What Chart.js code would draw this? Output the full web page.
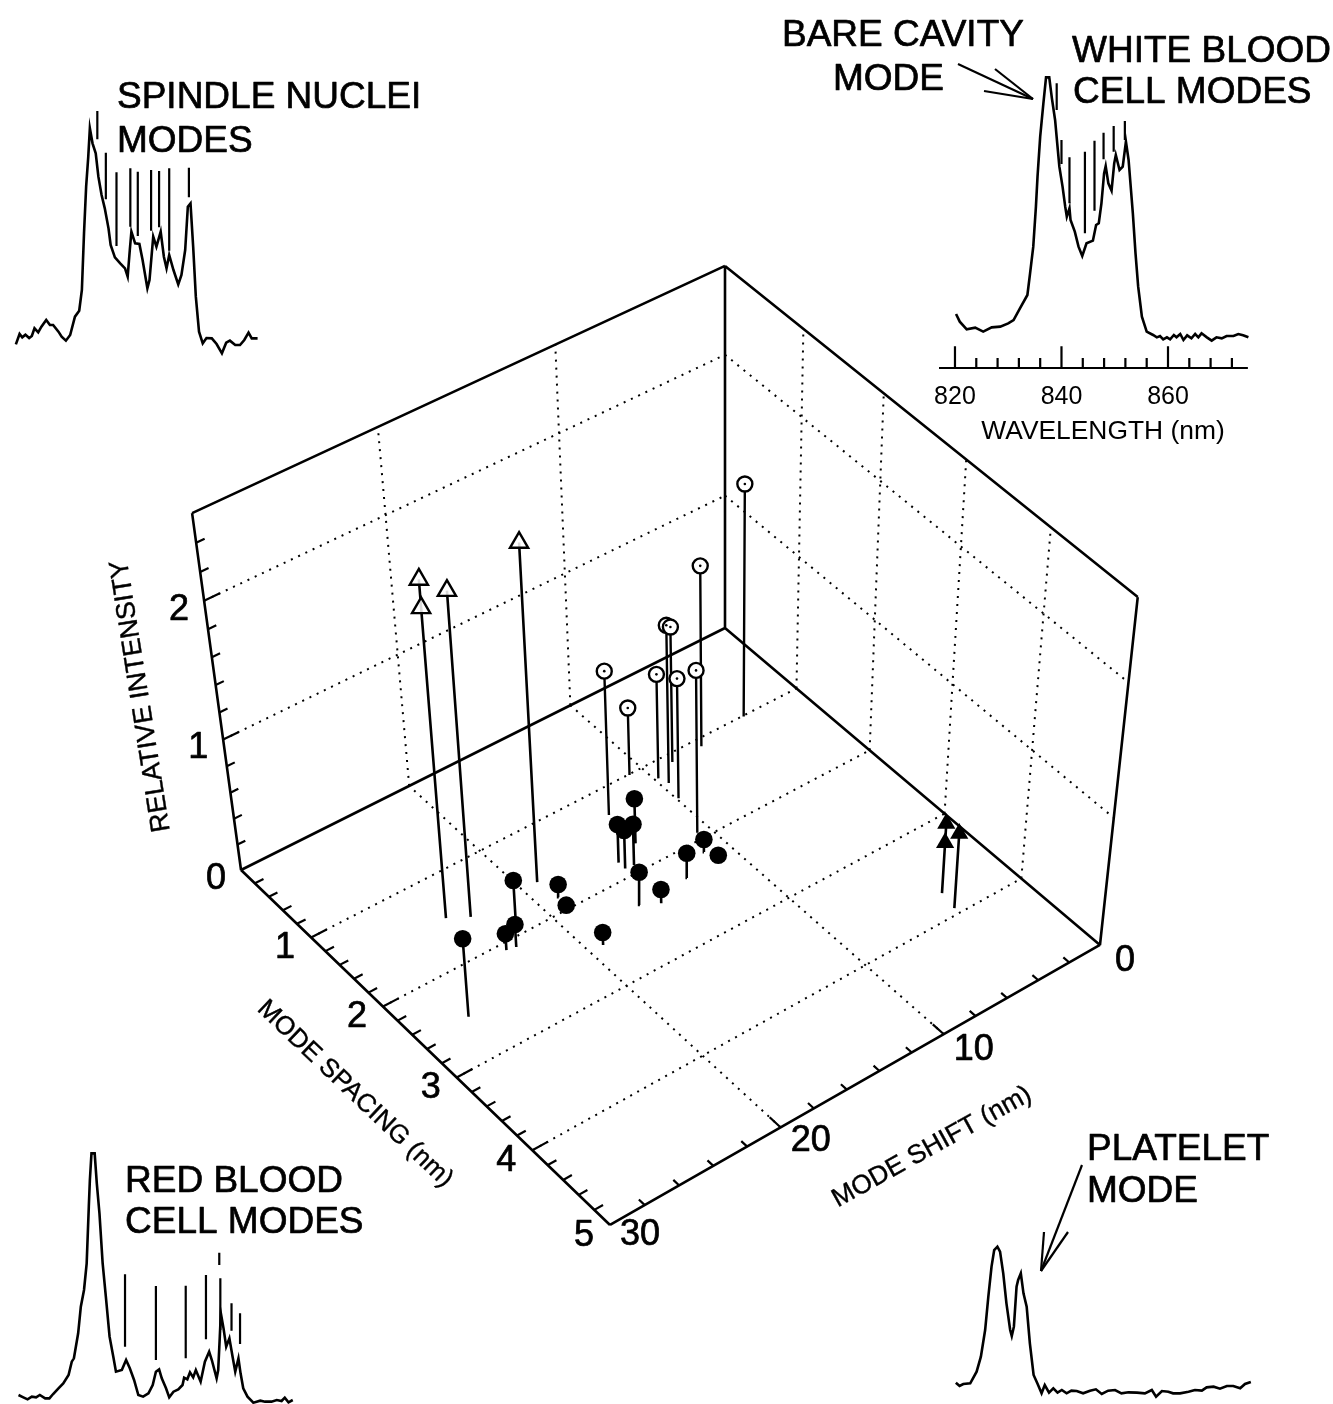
<!doctype html>
<html><head><meta charset="utf-8">
<style>html,body{margin:0;padding:0;background:#fff;overflow:hidden}canvas{position:absolute}</style>
<script src="https://cdn.jsdelivr.net/npm/chart.js@4/dist/chart.umd.min.js"></script>
</head><body>
<canvas id="main" width="1333" height="1404" style="left:0;top:0"></canvas>
<canvas id="white" width="346" height="390" style="left:930px;top:60px"></canvas>
<canvas id="spindle" width="260" height="265" style="left:10px;top:100px"></canvas>
<canvas id="red" width="290" height="264" style="left:10px;top:1140px"></canvas>
<canvas id="platelet" width="310" height="170" style="left:950px;top:1230px"></canvas>
<script>
// ---------- 3D scatter data: mode spacing (nm), mode shift (nm), relative intensity
const openTriSpacing=[1.48,1.48,1.59,1.59];
const openTriShift=[24.1,24.1,23.1,19.1];
const openTriIntensity=[2.50,2.305,2.415,2.50];
const filledDotSpacing=[2.51,1.84,2.10,2.08,1.84,1.99,2.51,1.71,1.81,1.90,1.91,2.32,2.41,2.30,2.14,2.29];
const filledDotShift=[27.2,21.5,22.6,23.1,18.9,19.1,19.2,13.6,15.1,15.1,14.6,16.1,15.2,13.1,11.3,11.1];
const filledDotIntensity=[0.62,0.31,0.18,0.13,0.10,0.03,0.10,0.35,0.30,0.30,0.32,0.26,0.11,0.195,0.10,0.04];
const openDotSpacing=[1.01,1.09,1.29,1.10,1.30,1.01,1.19,1.49,1.92];
const openDotShift=[3.5,6.6,9.6,8.5,13.4,10.8,9.8,9.9,10.7];
const openDotIntensity=[1.73,1.36,1.20,1.03,1.10,0.52,0.80,0.92,1.24];
const filledTriSpacing=[3.73,3.73,3.93];
const filledTriShift=[3.8,3.8,4.0];
const filledTriIntensity=[0.55,0.40,0.59];
// axis ranges and ticks
const spacingTicks=[0,0.2,0.4,0.6,0.8,1,1.2,1.4,1.6,1.8,2,2.2,2.4,2.6,2.8,3,3.2,3.4,3.6,3.8,4,4.2,4.4,4.6,4.8,5];
const shiftTicks=[0,2,4,6,8,10,12,14,16,18,20,22,24,26,28,30];
const intensityTicks=[0,0.2,0.4,0.6,0.8,1,1.2,1.4,1.6,1.8,2,2.2,2.4,2.6];
const spacingLabels=[1,2,3,4,5];
const shiftLabels=[0,10,20,30];
const intensityLabels=[0,1,2];
const spacingMax=5, shiftMax=30, intensityMax=2.6;

// ---------- Inset spectra (wavelength nm, arbitrary intensity)
const whiteNm=[820.2,820.9,822.2,823.8,825.3,826.9,828.5,830.0,831.0,832.2,833.6,834.1,834.7,835.2,835.5,836.0,836.6,837.1,837.7,838.2,838.8,839.2,839.6,840.2,840.7,841.0,841.5,841.7,842.5,843.2,843.9,844.7,845.9,846.5,847.0,847.5,848.0,848.3,848.8,849.4,849.9,850.2,850.9,851.5,852.1,852.6,852.9,853.4,853.9,854.4,855.1,856.0,857.2,857.9,858.5,859.1,859.8,860.4,861.1,861.6,862.3,862.9,863.6,864.4,865.1,865.7,866.3,867.3,868.2,869.1,870.1,871.0,872.3,873.2,874.1,875.1];
const whiteI=[7.8,5.5,3.2,3.7,2.5,3.8,4,5,6,9.5,13.5,20,28,40,49,61,71,78.8,78.8,72.5,66,59,52,46,40,37,39.5,36,32.5,28,25.2,29,29.8,34.5,35,41,50,52.2,47,44.8,53,55.5,51,52,59.5,54,48,38,26,16,7,2.5,1.5,0.8,1.2,0.2,0.8,0.2,1.5,0.8,1.8,0,1.4,0.5,1.8,0.8,2,0.8,-0.2,0.8,0.5,1.2,1.2,1.8,1.4,0.8];
const whiteMarkNm=[839.1,840.0,841.5,844.4,846.2,847.9,849.8,851.9];
const whiteMarkLow=[69,52.8,41,32,38.8,54.2,56.5,60];
const whiteMarkHigh=[77,60,54.8,56.5,59.8,62.2,64.2,65.7];
const wavelengthTicks=[820,824,828,832,836,840,844,848,852,856,860,864,868,872];
const wavelengthLabels=[820,840,860];

const spindleNm=[823.5,824.2,824.7,825.3,826.0,826.5,827.0,827.7,828.3,829.2,829.9,830.5,831.5,832.1,832.9,833.7,834.6,835.4,835.9,836.3,836.7,837.1,837.4,837.9,838.5,839.0,839.6,840.2,840.9,841.3,842.1,843.1,844.0,844.5,844.9,845.2,845.9,846.7,847.3,848.2,848.6,849.3,849.9,850.7,851.3,851.8,852.3,853.1,854.0,854.6,855.3,855.8,856.3,856.8,857.3,857.9,858.6,859.3,860.3,861.2,862.2,863.0,863.7,864.7,865.6,866.4,867.2,867.8,868.9];
const spindleI=[6.7,9.8,8.8,9.6,8.6,9.2,11.5,10.3,12,14,12.5,12.5,10.5,9,7.8,9.5,15,16.8,23,40,54,63,71.5,67,64,57,51.5,47.5,41.5,36.5,32.8,31,29.5,27,35,40.5,37,36.8,32,23.5,26,39,36,40.5,33,29.5,33.5,29,24.7,27.5,35,48,49,36,21,10.5,7,8.6,8.5,6.8,4,7.2,7.8,6.5,6.5,8,10.2,8.5,8.5];
const spindleMarkNm=[838.8,840.4,842.4,845.0,846.4,848.9,850.4,852.3,856.0];
const spindleMarkLow=[68.2,50.2,36.2,42,39.2,40.8,41.8,34.8,50.8];
const spindleMarkHigh=[76.7,64.2,58.3,59.5,58.5,59,58.7,59.5,59.7];

const redNm=[823.5,824.4,825.2,826.0,826.8,827.5,828.5,829.3,830.0,831.0,831.9,832.9,833.5,833.9,834.7,835.2,835.8,836.3,836.7,836.9,837.2,837.8,838.2,838.7,839.3,839.9,840.6,841.3,841.8,842.9,843.7,844.4,845.2,846.0,846.9,847.9,848.7,849.3,849.9,850.4,851.2,851.8,852.6,853.5,854.3,854.6,855.2,855.7,856.3,856.8,857.7,858.5,859.3,859.8,860.7,861.0,861.3,861.5,862.0,862.5,863.1,863.7,864.2,864.8,865.2,865.7,866.5,867.6,868.9,869.8,871.0,872.0,872.9,873.5,874.2,875.0];
const redI=[3.5,2.8,2.2,3,2.8,3.5,2.5,2.5,3.8,5.5,7,9.5,13.5,14.5,22,30,35,43,60,68,76,76,67,58,43,33,21,15,10.5,11,14,11.5,8,3.5,3,4,6.5,10.5,11.2,8.5,5.5,2.8,4.5,5.2,6.5,8.7,8.2,10.3,8.8,11,7.5,13.5,16.5,14,8.5,11,21,28,23.5,18,20.5,15,10.5,14.5,10,5.5,3,1.2,1.8,1.5,1.5,2,1.7,2.7,1.3,2];
const redMarkNm=[843.5,849.3,854.9,858.7,861.2,861.4,863.5,865.1];
const redMarkLow=[18,14,14.5,20.2,42.5,23,22.8,18.8];
const redMarkHigh=[39.7,36.2,36.3,39.5,46.2,38.5,31,28];

const plateletNm=[829.7,830.4,831.1,832.4,833.6,834.4,835.2,835.8,836.4,836.9,837.5,838.0,838.6,839.2,839.9,840.2,840.6,841.1,841.4,841.9,842.4,843.0,843.6,844.3,845.0,845.8,846.4,847.2,848.0,848.8,849.6,850.5,851.4,852.4,853.6,854.9,856.0,857.1,858.3,859.6,860.8,862.1,863.7,865.2,866.5,867.3,868.4,869.6,870.5,871.8,873.4,874.6,875.9,876.8,878.1,879.3,880.6,881.8,883.1,884.0,885.1];
const plateletI=[6.2,5.2,5.8,6,9.5,14,22,32,41,46,47,45.5,39,30,22,20.2,23,35,37,39,33,29,18,8.5,6,3,5.5,3.2,4.5,3.2,4,3,3.8,3.7,3,3.8,4.2,2.8,3.8,4,3,3.3,3.2,3,4,2,3.7,3.5,3,3,3.5,4,3.8,4.8,5,4.4,5.2,5.2,4.5,5.8,6.4];

// ---------- camera: maps (spacing, shift, intensity) onto the page
function camera(sp,sh,z){
  const u=sp/spacingMax, v=sh/shiftMax;
  const w=-0.05825*u-0.0611*v+1;
  const fx=(310.9*u-498.7*v+725)/w, fy=(261.95*u+188.84*v+628)/w;
  const k=0.096+0.0047*u+0.0051*v;
  const t=(z/(1-0.03*z))/2.82*k;
  return {x:fx+(fx-725)*t, y:fy+(fy-4400)*t};
}
const GAP={x:NaN,y:NaN};
function segs(list){const out=[];list.forEach(s=>{out.push(...s,GAP)});return out;}
const seg3=(a,b)=>[camera(...a),camera(...b)];

const frame=segs([
 seg3([0,30,0],[0,0,0]),seg3([0,0,0],[5,0,0]),seg3([5,0,0],[5,30,0]),seg3([5,30,0],[0,30,0]),
 seg3([0,30,0],[0,30,intensityMax]),seg3([0,0,0],[0,0,intensityMax]),seg3([5,0,0],[5,0,intensityMax]),
 seg3([0,30,intensityMax],[0,0,intensityMax]),seg3([0,0,intensityMax],[5,0,intensityMax])]);
const majorSp=[1,2,3,4], majorSh=[10,20], majorZ=[1,2];
const grid=segs([
 ...majorSp.map(s=>seg3([s,30,0],[s,0,0])),
 ...majorSh.map(s=>seg3([5,s,0],[0,s,0])),
 ...majorSh.map(s=>seg3([0,s,0],[0,s,intensityMax])),
 ...majorSp.map(s=>seg3([s,0,0],[s,0,intensityMax])),
 ...majorZ.map(z=>seg3([0,30,z],[0,0,z])),
 ...majorZ.map(z=>seg3([0,0,z],[5,0,z]))]);
const isMaj=(v,step)=>Math.abs(v/step-Math.round(v/step))<1e-6;
const axisTicks=segs([
 ...intensityTicks.filter(z=>z>0&&z<2.6).map(z=>seg3([0,30,z],[0,30-(isMaj(z,1)?0.85:0.45),z])),
 ...spacingTicks.filter(s=>s>0&&s<5).map(s=>seg3([s,30,0],[s,30-(isMaj(s,1)?0.9:0.5),0])),
 ...shiftTicks.filter(s=>s>0&&s<30).map(s=>seg3([5,s,0],[5-(isMaj(s,10)?0.14:0.075),s,0]))]);
const drops=(a,b,c)=>segs(a.map((s,i)=>seg3([s,b[i],0],[s,b[i],c[i]])));
const tops=(a,b,c)=>a.map((s,i)=>camera(s,b[i],c[i]));
const line=(data,w,extra)=>Object.assign({data,showLine:true,borderColor:'#000',borderWidth:w,pointRadius:0,clip:false,spanGaps:false,tension:0},extra||{});
const marker=(data,style,r,fill,extra)=>Object.assign({data,showLine:false,pointStyle:style,pointRadius:r,pointBackgroundColor:fill,pointBorderColor:'#000',pointBorderWidth:2.4,clip:false},extra||{});

const FONT='"Liberation Sans",Arial,sans-serif';
const captions=[['SPINDLE NUCLEI',117,108],['MODES',117,152],['BARE CAVITY',782,46],['MODE',833,90],['WHITE BLOOD',1072,62],['CELL MODES',1073,103],['RED BLOOD',125,1192],['CELL MODES',125,1233],['PLATELET',1087,1160],['MODE',1087,1202]];
const rotated=[['RELATIVE INTENSITY',141,696,-99,26.8],['MODE SPACING (nm)',355,1094,43.5,25.8],['MODE SHIFT (nm)',932,1147,-29,26.3]];
const arrowStrokes=[[1033,99,958,64],[1033,99,995,69],[1033,99,984,91],[1041,1271,1082,1165],[1041,1271,1044,1232],[1041,1271,1068,1232]];
const annotate={id:'annotate',afterDraw(ch){
  const c=ch.ctx;c.save();c.fillStyle='#000';c.strokeStyle='#000';c.lineWidth=2.2;
  arrowStrokes.forEach(a=>{c.beginPath();c.moveTo(a[0],a[1]);c.lineTo(a[2],a[3]);c.stroke();});
  c.lineWidth=0.7;c.lineJoin='round';
  const ink=(s,x,y)=>{c.fillText(s,x,y);c.strokeText(s,x,y);};
  c.textBaseline='alphabetic';c.textAlign='left';c.font='37px '+FONT;
  captions.forEach(t=>ink(t[0],t[1],t[2]));
  c.textAlign='center';c.textBaseline='middle';c.font='36px '+FONT;
  const sx=ch.scales.x,sy=ch.scales.y;
  const put=(txt,p,dx,dy)=>ink(String(txt),sx.getPixelForValue(p.x)+dx,sy.getPixelForValue(p.y)+dy);
  intensityLabels.forEach(z=>put(z,camera(0,30,z),-25,9));
  spacingLabels.forEach(s=>put(s,camera(s,30,0),-26,11));
  shiftLabels.forEach(s=>put(s,camera(5,s,0),s<10?25:30,s<30?(s<20?16:14):10));
  c.lineWidth=0.4;
  rotated.forEach(t=>{c.save();c.translate(t[1],t[2]);c.rotate(t[3]*Math.PI/180);c.font=t[4]+'px '+FONT;ink(t[0],0,0);c.restore();});
  c.restore();
}};

new Chart(document.getElementById('main'),{type:'scatter',plugins:[annotate],data:{datasets:[
  marker(tops(openDotSpacing,openDotShift,openDotIntensity),'circle',1,'#000',{pointBorderWidth:0,pointRadius:1.3}),
  marker(tops(openDotSpacing,openDotShift,openDotIntensity),'circle',7.5,'#fff'),
  marker(tops(openTriSpacing,openTriShift,openTriIntensity),'triangle',10.5,'rgba(255,255,255,0.85)'),
  marker(tops(filledDotSpacing,filledDotShift,filledDotIntensity),'circle',8.8,'#000',{pointBorderWidth:0}),
  marker(tops(filledTriSpacing,filledTriShift,filledTriIntensity),'triangle',10.5,'#000',{pointBorderWidth:0}),
  line(drops(openDotSpacing,openDotShift,openDotIntensity),2.4),
  line(drops(openTriSpacing,openTriShift,openTriIntensity),2.6),
  line(drops(filledDotSpacing,filledDotShift,filledDotIntensity),2.6),
  line(drops(filledTriSpacing,filledTriShift,filledTriIntensity),2.6),
  line(frame,2.6),
  line(axisTicks,2.2),
  line(grid,2,{borderDash:[2,6]})
]},options:{responsive:false,animation:false,devicePixelRatio:1,layout:{padding:0,autoPadding:false},
  plugins:{legend:{display:false},tooltip:{enabled:false}},
  scales:{x:{type:'linear',display:false,min:0,max:1333},y:{type:'linear',display:false,min:0,max:1404,reverse:true}}}});

function insetData(nm,I,mn,lo,hi,extra){
  const pts=nm.map((x,i)=>({x,y:I[i]}));
  const marks=segs(mn.map((x,i)=>[{x,y:lo[i]},{x,y:hi[i]}]));
  return [line(pts,2.6),line(marks,2.2),...(extra||[])];
}
function inset(id,data,xr,yr,xExtra){
  new Chart(document.getElementById(id),{type:'scatter',data:{datasets:data},options:{responsive:false,animation:false,devicePixelRatio:1,layout:{padding:0,autoPadding:false},
   plugins:{legend:{display:false},tooltip:{enabled:false}},
   scales:{x:Object.assign({type:'linear',display:false,min:xr[0],max:xr[1]},xExtra||{}),y:{type:'linear',display:false,min:yr[0],max:yr[1]}}}});
}
const axisFloor=-8.4;
const wlAxis=segs([[{x:817,y:axisFloor},{x:875,y:axisFloor}],
  ...wavelengthTicks.map(t=>[{x:t,y:axisFloor},{x:t,y:wavelengthLabels.includes(t)?-1.9:-5.4}])]);
inset('white',insetData(whiteNm,whiteI,whiteMarkNm,whiteMarkLow,whiteMarkHigh,[line(wlAxis,2.2)]),[815.31,880.28],[axisFloor,84],{
  display:true,position:'bottom',border:{display:false},grid:{display:false,drawTicks:false},
  afterFit(s){s.height=82;s.paddingLeft=0;s.paddingRight=0;},
  afterBuildTicks(s){s.ticks=wavelengthLabels.map(v=>({value:v}));},
  ticks:{color:'#000',font:{family:FONT,size:25},padding:14,maxRotation:0,autoSkip:false,callback:v=>String(v)},
  title:{display:true,text:'WAVELENGTH (nm)',color:'#000',font:{family:FONT,size:26.4},padding:{top:0,bottom:2}}
});
inset('spindle',insetData(spindleNm,spindleI,spindleMarkNm,spindleMarkLow,spindleMarkHigh),[822.4,871.23],[0.5,80]);
inset('red',insetData(redNm,redI,redMarkNm,redMarkLow,redMarkHigh),[821.9,876.36],[0.8,80]);
inset('platelet',insetData(plateletNm,plateletI,[],[],[]),[828.6,886.82],[1,52]);
</script>
</body></html>
